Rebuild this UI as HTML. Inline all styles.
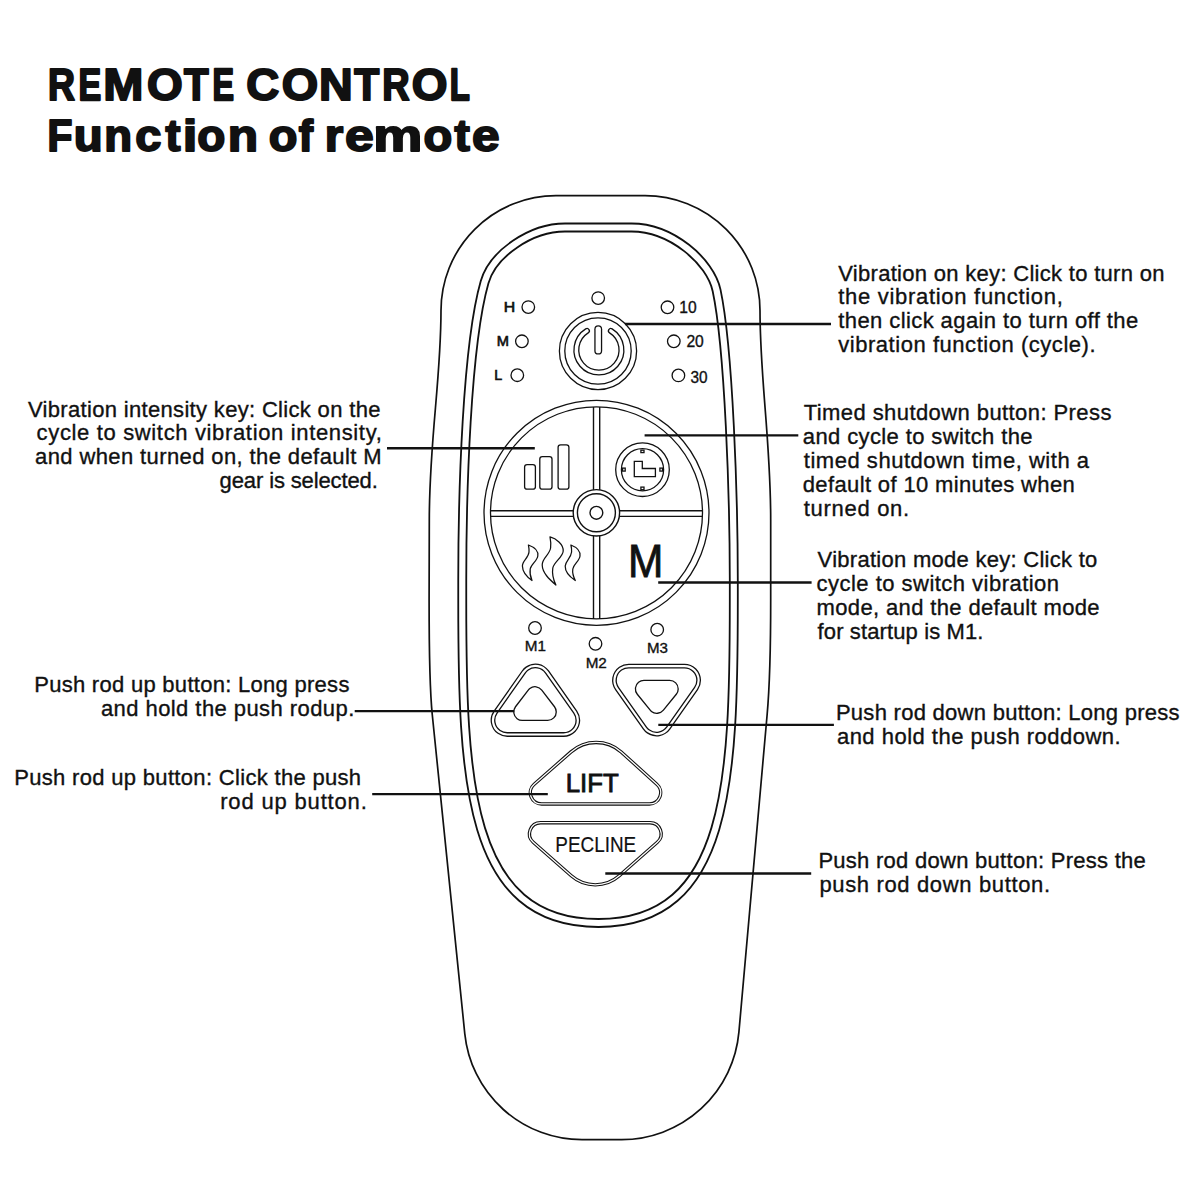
<!DOCTYPE html>
<html><head><meta charset="utf-8">
<style>
html,body{margin:0;padding:0;background:#fff;width:1200px;height:1200px;overflow:hidden;}
svg{display:block;}
text{font-family:"Liberation Sans",sans-serif;fill:#111;}
.t{font-size:22px;stroke:#111;stroke-width:0.35px;}
.lk{stroke:#111;stroke-width:2.35;}
.o{fill:none;stroke:#111;}
</style></head><body>
<svg width="1200" height="1200" viewBox="0 0 1200 1200">
<!-- Title -->
<g font-size="45" font-weight="bold" stroke="#111" stroke-width="2.0" stroke-linejoin="round" vector-effect="non-scaling-stroke">
<text vector-effect="non-scaling-stroke" transform="matrix(0.8298 0 0 0.9935 48.11 99.80)">R</text>
<text vector-effect="non-scaling-stroke" transform="matrix(0.7564 0 0 0.9935 78.53 99.80)">E</text>
<text vector-effect="non-scaling-stroke" transform="matrix(1.0714 0 0 0.9935 103.29 99.80)">M</text>
<text vector-effect="non-scaling-stroke" transform="matrix(1.0208 0 0 0.9935 146.91 99.80)">O</text>
<text vector-effect="non-scaling-stroke" transform="matrix(0.8943 0 0 0.9935 183.95 99.80)">T</text>
<text vector-effect="non-scaling-stroke" transform="matrix(0.7168 0 0 0.9935 212.55 99.80)">E</text>
<text vector-effect="non-scaling-stroke" transform="matrix(1.0169 0 0 0.9935 246.22 99.80)">C</text>
<text vector-effect="non-scaling-stroke" transform="matrix(1.0400 0 0 0.9935 281.68 99.80)">O</text>
<text vector-effect="non-scaling-stroke" transform="matrix(1.0377 0 0 0.9935 318.89 99.80)">N</text>
<text vector-effect="non-scaling-stroke" transform="matrix(0.9094 0 0 0.9935 354.15 99.80)">T</text>
<text vector-effect="non-scaling-stroke" transform="matrix(0.8421 0 0 0.9935 382.37 99.80)">R</text>
<text vector-effect="non-scaling-stroke" transform="matrix(1.0208 0 0 0.9935 411.71 99.80)">O</text>
<text vector-effect="non-scaling-stroke" transform="matrix(0.7304 0 0 0.9935 449.81 99.80)">L</text>
<text vector-effect="non-scaling-stroke" transform="matrix(0.9055 0 0 0.9742 47.48 151.00)">F</text>
<text vector-effect="non-scaling-stroke" transform="matrix(1.0529 0 0 0.9742 73.80 151.00)">u</text>
<text vector-effect="non-scaling-stroke" transform="matrix(1.0115 0 0 0.9742 104.27 151.00)">n</text>
<text vector-effect="non-scaling-stroke" transform="matrix(1.0455 0 0 0.9742 135.17 151.00)">c</text>
<text vector-effect="non-scaling-stroke" transform="matrix(1.0000 0 0 0.9742 165.50 151.00)">t</text>
<text vector-effect="non-scaling-stroke" transform="matrix(1.1667 0 0 0.9742 182.71 151.00)">i</text>
<text vector-effect="non-scaling-stroke" transform="matrix(1.0208 0 0 0.9742 197.21 151.00)">o</text>
<text vector-effect="non-scaling-stroke" transform="matrix(1.1034 0 0 0.9742 227.69 151.00)">n</text>
<text vector-effect="non-scaling-stroke" transform="matrix(1.0417 0 0 0.9742 268.68 151.00)">o</text>
<text vector-effect="non-scaling-stroke" transform="matrix(0.9474 0 0 0.9742 298.79 151.00)">f</text>
<text vector-effect="non-scaling-stroke" transform="matrix(1.0545 0 0 0.9742 324.84 151.00)">r</text>
<text vector-effect="non-scaling-stroke" transform="matrix(1.1494 0 0 0.9742 344.99 151.00)">e</text>
<text vector-effect="non-scaling-stroke" transform="matrix(1.2263 0 0 0.9742 373.32 151.00)">m</text>
<text vector-effect="non-scaling-stroke" transform="matrix(1.0458 0 0 0.9742 423.47 151.00)">o</text>
<text vector-effect="non-scaling-stroke" transform="matrix(1.0214 0 0 0.9742 454.49 151.00)">t</text>
<text vector-effect="non-scaling-stroke" transform="matrix(1.1034 0 0 0.9742 472.07 151.00)">e</text>
</g>

<!-- Body outline -->
<path class="o" stroke-width="1.7" d="M556 195.6 L645 195.6 A115 115 0 0 1 760 310.6 C760 380 770.7 440 770.7 520 L770.7 600 C770.7 640 769.8 685 767.1 715 L738.9 1032.2 A118 118 0 0 1 621.6 1139.7 L582 1139.7 A118 118 0 0 1 464.8 1033.8 L432.3 715 C429.2 685 429.1 640 429.1 600 L429.3 520 C429.3 440 441 380 441 310.6 A115 115 0 0 1 556 195.6 Z"/>

<!-- Panel double line -->
<path id="panel" fill="none" stroke="#111" stroke-width="9.8" d="M565 227.5 L631.5 227.5 C671.25 227.5 710.35 261.15 716.6 290.4 C729 348.8 733.8 498.3 733.8 580 L733.8 600 C733.8 779.4 729.6 923 598.5 923 C467 923 462.25 779.4 462.25 600 L462.25 580 C462.25 492.8 466.5 345.55 484.6 282.2 C492.75 253.55 530.8 227.5 565 227.5 Z"/>
<path fill="none" stroke="#fff" stroke-width="6.2" d="M565 227.5 L631.5 227.5 C671.25 227.5 710.35 261.15 716.6 290.4 C729 348.8 733.8 498.3 733.8 580 L733.8 600 C733.8 779.4 729.6 923 598.5 923 C467 923 462.25 779.4 462.25 600 L462.25 580 C462.25 492.8 466.5 345.55 484.6 282.2 C492.75 253.55 530.8 227.5 565 227.5 Z"/>

<!-- LEDs top -->
<g class="o" stroke-width="1.3">
<circle cx="598.2" cy="298.1" r="6.3"/>
<circle cx="528.3" cy="307.1" r="6.3"/>
<circle cx="521.9" cy="341.3" r="6.3"/>
<circle cx="517.3" cy="375.2" r="6.3"/>
<circle cx="667.5" cy="307.3" r="6.3"/>
<circle cx="673.8" cy="341.3" r="6.3"/>
<circle cx="678.4" cy="375.4" r="6.3"/>
<circle cx="535" cy="628" r="6.3"/>
<circle cx="595.5" cy="643.8" r="6.3"/>
<circle cx="657.2" cy="629.7" r="6.3"/>
</g>
<text transform="matrix(0.9600 0 0 0.9417 503.64 311.86)" font-size="16.5" font-weight="normal" stroke="#111" stroke-width="0.75">H</text>
<text transform="matrix(0.8894 0 0 0.9000 496.86 345.57)" font-size="16.5" font-weight="normal" stroke="#111" stroke-width="0.75">M</text>
<text transform="matrix(0.8625 0 0 0.9375 494.34 379.77)" font-size="16.5" font-weight="normal" stroke="#111" stroke-width="0.75">L</text>
<text transform="matrix(0.9471 0 0 0.9458 679.25 312.81)" font-size="16.5" font-weight="normal" stroke="#111" stroke-width="0.35">10</text>
<text transform="matrix(0.9507 0 0 0.9750 686.39 346.86)" font-size="16.5" font-weight="normal" stroke="#111" stroke-width="0.35">20</text>
<text transform="matrix(0.9314 0 0 0.9583 690.53 382.66)" font-size="16.5" font-weight="normal" stroke="#111" stroke-width="0.35">30</text>
<text transform="matrix(1.0541 0 0 0.9756 524.75 651.46)" font-size="14.5" font-weight="normal" stroke="#111" stroke-width="0.35">M1</text>
<text transform="matrix(1.0541 0 0 0.9810 585.65 667.55)" font-size="14.5" font-weight="normal" stroke="#111" stroke-width="0.35">M2</text>
<text transform="matrix(1.0400 0 0 0.9905 646.96 653.45)" font-size="14.5" font-weight="normal" stroke="#111" stroke-width="0.35">M3</text>

<!-- Power button -->
<g class="o" stroke-width="1.3">
<circle cx="598" cy="351" r="38.6"/>
<circle cx="598" cy="351" r="33.2"/>
</g>
<path fill="none" stroke="#111" stroke-width="6.1" stroke-linecap="round" d="M586.95 330.88 A22.55 22.55 0 1 0 610.85 330.88"/>
<path fill="none" stroke="#fff" stroke-width="3.5" stroke-linecap="round" d="M586.95 330.88 A22.55 22.55 0 1 0 610.85 330.88"/>
<line x1="598.25" y1="329.25" x2="598.25" y2="350.65" stroke="#111" stroke-width="7.9" stroke-linecap="round"/>
<line x1="598.25" y1="329.25" x2="598.25" y2="350.65" stroke="#fff" stroke-width="5.3" stroke-linecap="round"/>

<!-- Big circle -->
<circle cx="596.5" cy="512.8" r="109.25" fill="none" stroke="#111" stroke-width="7.8"/>
<circle cx="596.5" cy="512.8" r="109.25" fill="none" stroke="#fff" stroke-width="5.2"/>
<g stroke="#111" stroke-width="1.4">
<line x1="593.5" y1="407" x2="593.5" y2="490.5"/>
<line x1="599.7" y1="407" x2="599.7" y2="490.5"/>
<line x1="593.5" y1="535.5" x2="593.5" y2="619"/>
<line x1="599.7" y1="535.5" x2="599.7" y2="619"/>
<line x1="490.5" y1="510.75" x2="573.8" y2="510.75"/>
<line x1="490.5" y1="516.4" x2="573.8" y2="516.4"/>
<line x1="619.2" y1="510.75" x2="702.5" y2="510.75"/>
<line x1="619.2" y1="516.4" x2="702.5" y2="516.4"/>
</g>
<circle cx="596.4" cy="512.8" r="23.2" fill="#fff" stroke="#111" stroke-width="1.4"/>
<g class="o" stroke-width="1.4">
<circle cx="596.4" cy="512.8" r="19"/>
<circle cx="596.4" cy="512.8" r="6.4"/>
</g>

<!-- Signal bars -->
<g class="o" stroke-width="1.3">
<rect x="524.6" y="464.6" width="10.8" height="24.6" rx="2.5"/>
<rect x="539.8" y="456.6" width="12.2" height="32.6" rx="2.5"/>
<rect x="558.1" y="444.8" width="10.8" height="44.4" rx="2.5"/>
</g>

<!-- Clock -->
<g class="o" stroke-width="1.3">
<circle cx="642.5" cy="469.7" r="26.8"/>
<circle cx="642.5" cy="469.7" r="21.1"/>
<rect x="640.9" y="450.2" width="3.1" height="2.4"/>
<rect x="640.9" y="487.1" width="3.1" height="2.6"/>
<rect x="622.6" y="468.1" width="2.6" height="3"/>
<rect x="659.9" y="468.1" width="2.6" height="3"/>
<path d="M634.3 461.3 L642.3 461.3 L642.3 468.5 L655.4 468.5 L655.4 476.7 L634.3 476.7 Z"/>
</g>

<!-- Flames -->
<g class="o" stroke-width="1.25" stroke-linejoin="round">
<path d="M528.4 545 C534 547 538.5 551 537.8 556 C537.2 561 531 564 530.2 569 C529.6 573 530.5 577 532 580.5 C527 577 522.5 572 522.4 566 C522.4 561 528.5 558 529 552 C529.3 549 528.8 547 528.4 545 Z"/>
<path d="M550 536.9 C556 538.5 563.5 544 563.2 551 C563 557 554 562 552.8 568 C552 573 553 579 555.9 585 C549 579 542.5 573 542.2 565 C542 558 549.5 555 550.6 548 C551 544 550.6 540 550 536.9 Z"/>
<path d="M570.9 545 C576 547 580.5 551 580 556 C579.5 561 573.5 564 572.8 569 C572.2 573 573.5 577 575.3 580.5 C570 577 565 572 565.2 566 C565.4 561 571 558 571.6 552 C571.8 549 571.4 547 570.9 545 Z"/>
</g>

<!-- M -->
<text transform="matrix(0.9228 0 0 0.9846 627.90 576.51)" font-size="46" font-weight="normal" stroke="#111" stroke-width="0.9">M</text>

<!-- Up/Down triangle buttons -->
<g fill="none" stroke-linejoin="round">
<path d="M535.4 680.2 L507.25 720.25 L563.6 720.25 Z" stroke="#111" stroke-width="33.30"/>
<path d="M535.4 680.2 L507.25 720.25 L563.6 720.25 Z" stroke="#fff" stroke-width="30.70" fill="#fff"/>
<path d="M535.4 680.2 L507.25 720.25 L563.6 720.25 Z" stroke="#111" stroke-width="26.30"/>
<path d="M535.4 680.2 L507.25 720.25 L563.6 720.25 Z" stroke="#fff" stroke-width="23.70" fill="#fff"/>
<path d="M535 695.2 L522.25 711.9 L547.75 711.9 Z" stroke="#111" stroke-width="18.30"/>
<path d="M535 695.2 L522.25 711.9 L547.75 711.9 Z" stroke="#fff" stroke-width="15.70" fill="#fff"/>
<path d="M628.7 680.3 L684.4 680.3 L656.6 719.8 Z" stroke="#111" stroke-width="33.30"/>
<path d="M628.7 680.3 L684.4 680.3 L656.6 719.8 Z" stroke="#fff" stroke-width="30.70" fill="#fff"/>
<path d="M628.7 680.3 L684.4 680.3 L656.6 719.8 Z" stroke="#111" stroke-width="26.30"/>
<path d="M628.7 680.3 L684.4 680.3 L656.6 719.8 Z" stroke="#fff" stroke-width="23.70" fill="#fff"/>
<path d="M643.9 688.9 L669.7 688.9 L656.8 704.8 Z" stroke="#111" stroke-width="18.30"/>
<path d="M643.9 688.9 L669.7 688.9 L656.8 704.8 Z" stroke="#fff" stroke-width="15.70" fill="#fff"/>
</g>

<!-- LIFT / PECLINE -->
<path fill="none" stroke="#111" stroke-width="3.4" d="M541.6 803.95 L649.4 803.95 A11.2 11.2 0 0 0 656.8 784.3 L621.2 751.9 A38 38 0 0 0 571 751.9 L534.2 784.3 A11.2 11.2 0 0 0 541.6 803.95 Z"/>
<path fill="none" stroke="#fff" stroke-width="1.3" d="M541.6 803.95 L649.4 803.95 A11.2 11.2 0 0 0 656.8 784.3 L621.2 751.9 A38 38 0 0 0 571 751.9 L534.2 784.3 A11.2 11.2 0 0 0 541.6 803.95 Z"/>
<text transform="matrix(0.9207 0 0 0.9531 565.69 792.22)" font-size="28" font-weight="normal" stroke="#111" stroke-width="0.95">LIFT</text>
<path fill="none" stroke="#111" stroke-width="3.4" d="M540.65 822.7 L649.95 822.7 A11.2 11.2 0 0 1 657.34 842.3 L619.3 875.8 A36.4 36.4 0 0 1 571.3 875.8 L533.26 842.3 A11.2 11.2 0 0 1 540.65 822.7 Z"/>
<path fill="none" stroke="#fff" stroke-width="1.3" d="M540.65 822.7 L649.95 822.7 A11.2 11.2 0 0 1 657.34 842.3 L619.3 875.8 A36.4 36.4 0 0 1 571.3 875.8 L533.26 842.3 A11.2 11.2 0 0 1 540.65 822.7 Z"/>
<text transform="matrix(0.8601 0 0 0.9778 555.29 852.16)" font-size="22" font-weight="normal" stroke="#111" stroke-width="0.2">PECLINE</text>

<!-- Leader lines -->
<g class="lk">
<line x1="624.9" y1="324" x2="831" y2="324"/>
<line x1="644.6" y1="435.4" x2="798.3" y2="435.4"/>
<line x1="658.2" y1="582.5" x2="811.6" y2="582.5"/>
<line x1="658.3" y1="724.8" x2="833.9" y2="724.8"/>
<line x1="605.3" y1="873.5" x2="811.2" y2="873.5"/>
<line x1="387" y1="448.2" x2="534.8" y2="448.2"/>
<line x1="354.7" y1="711.1" x2="514.2" y2="711.1"/>
<line x1="372.2" y1="794.1" x2="547.8" y2="794.1"/>
</g>

<g class="t">
<text x="838.25" y="280.5" textLength="326.21" lengthAdjust="spacing">Vibration on key: Click to turn on</text>
<text x="838.25" y="304.2" textLength="224.63" lengthAdjust="spacing">the vibration function,</text>
<text x="838.25" y="328.2" textLength="299.90" lengthAdjust="spacing">then click again to turn off the</text>
<text x="838.25" y="351.8" textLength="257.32" lengthAdjust="spacing">vibration function (cycle).</text>
<text x="803.75" y="420.3" textLength="307.63" lengthAdjust="spacing">Timed shutdown button: Press</text>
<text x="802.75" y="444.0" textLength="229.83" lengthAdjust="spacing">and cycle to switch the</text>
<text x="803.75" y="467.9" textLength="285.36" lengthAdjust="spacing">timed shutdown time, with a</text>
<text x="802.75" y="491.8" textLength="272.05" lengthAdjust="spacing">default of 10 minutes when</text>
<text x="803.75" y="516.0" textLength="105.38" lengthAdjust="spacing">turned on.</text>
<text x="817.60" y="567.0" textLength="279.67" lengthAdjust="spacing">Vibration mode key: Click to</text>
<text x="816.60" y="591.0" textLength="242.49" lengthAdjust="spacing">cycle to switch vibration</text>
<text x="816.60" y="615.3" textLength="282.97" lengthAdjust="spacing">mode, and the default mode</text>
<text x="817.60" y="638.5" textLength="165.83" lengthAdjust="spacing">for startup is M1.</text>
<text x="835.90" y="720.3" textLength="343.71" lengthAdjust="spacing">Push rod down button: Long press</text>
<text x="836.90" y="744.3" textLength="283.74" lengthAdjust="spacing">and hold the push roddown.</text>
<text x="818.40" y="868.4" textLength="327.39" lengthAdjust="spacing">Push rod down button: Press the</text>
<text x="819.40" y="892.4" textLength="230.71" lengthAdjust="spacing">push rod down button.</text>
<text x="27.90" y="416.6" textLength="352.56" lengthAdjust="spacing">Vibration intensity key: Click on the</text>
<text x="36.60" y="440.4" textLength="345.18" lengthAdjust="spacing">cycle to switch vibration intensity,</text>
<text x="35.00" y="464.1" textLength="346.50" lengthAdjust="spacing">and when turned on, the default M</text>
<text x="219.60" y="487.5" textLength="158.20" lengthAdjust="spacing">gear is selected.</text>
<text x="34.20" y="692.1" textLength="315.19" lengthAdjust="spacing">Push rod up button: Long press</text>
<text x="100.90" y="715.9" textLength="253.42" lengthAdjust="spacing">and hold the push rodup.</text>
<text x="14.20" y="785.3" textLength="346.92" lengthAdjust="spacing">Push rod up button: Click the push</text>
<text x="220.20" y="809.0" textLength="146.57" lengthAdjust="spacing">rod up button.</text>
</g>
</svg>
</body></html>
